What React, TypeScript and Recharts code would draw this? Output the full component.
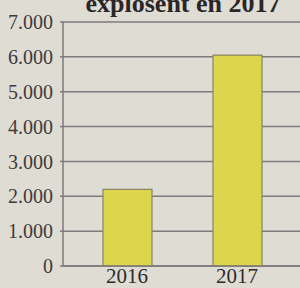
import React from 'react';
import { BarChart, Bar, XAxis, YAxis, CartesianGrid } from 'recharts';

const years = ['2016', '2017'];
const counts = [2200, 6050];
const yTicks = [0, 1000, 2000, 3000, 4000, 5000, 6000, 7000];

const data = years.map((year, i) => ({ year, count: counts[i] }));

const fmt = (v: number) => (v === 0 ? '0' : v.toLocaleString('de-DE'));

const App: React.FC = () => {
  return (
    <div
      style={{
        position: 'absolute',
        left: 0,
        top: 0,
        width: 300,
        height: 288,
        overflow: 'hidden',
        background: '#dfdcd4',
        fontFamily: '"Liberation Serif", serif',
      }}
    >
      <div
        style={{
          position: 'absolute',
          left: 66,
          width: 234,
          top: -10,
          textAlign: 'center',
          fontSize: 26,
          fontWeight: 'bold',
          color: '#2a2628',
          lineHeight: '28px',
        }}
      >
        explosent en 2017
      </div>
      <BarChart
        width={300}
        height={288}
        data={data}
        margin={{ top: 22, right: 0, left: 0, bottom: 0 }}
      >
        <CartesianGrid vertical={false} stroke="#7f797b" strokeWidth={1.5} />
        <XAxis
          dataKey="year"
          height={22}
          axisLine={{ stroke: '#7f797b', strokeWidth: 1.5 }}
          tickLine={false}
          padding={{ left: 9, right: 8 }}
          tick={{ fill: '#2e2a2c', fontSize: 21, fontFamily: '"Liberation Serif", serif' }}
          tickMargin={-4}
        />
        <YAxis
          width={63}
          domain={[0, 7000]}
          ticks={yTicks}
          tickFormatter={fmt}
          axisLine={{ stroke: '#7f797b', strokeWidth: 1.5 }}
          tickLine={{ stroke: '#7f797b', strokeWidth: 1.5 }}
          tickSize={3}
          tickMargin={7}
          tick={{ fill: '#3e3a3c', fontSize: 20, fontFamily: '"Liberation Serif", serif' }}
          interval={0}
        />
        <Bar
          dataKey="count"
          barSize={49}
          fill="#ddd54c"
          stroke="#8a8466"
          strokeWidth={1.2}
          isAnimationActive={false}
        />
      </BarChart>
    </div>
  );
};

export default App;
